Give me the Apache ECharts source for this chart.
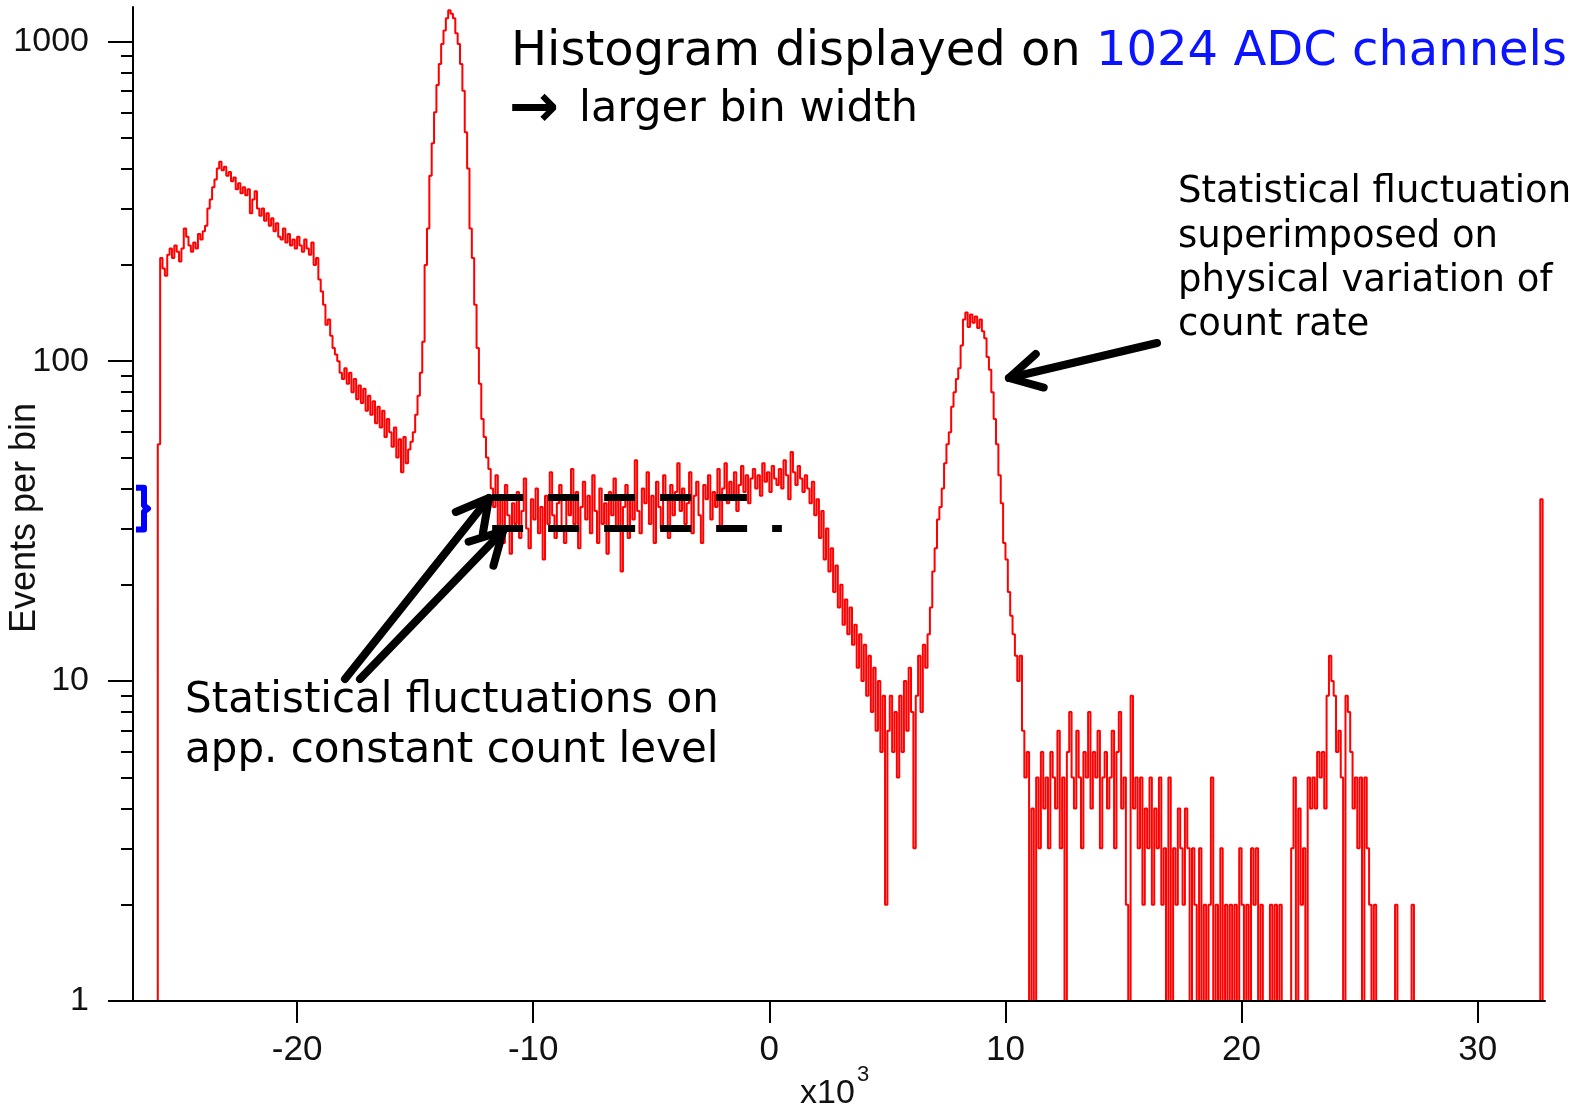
<!DOCTYPE html>
<html>
<head>
<meta charset="utf-8">
<title>Histogram on 1024 ADC channels</title>
<script src="https://cdn.jsdelivr.net/npm/echarts@6/dist/echarts.min.js"></script>
<style>
  html, body { margin: 0; padding: 0; background: #fff; }
  #chart { width: 1570px; height: 1110px; }
</style>
</head>
<body>
<div id="chart"></div>
<script>
// ---- axis ranges and ticks (x in units of 10^3 ADC) ----
const xRange = [-26.95, 32.85];
const yRange = [1, 1280];
const xTickValues = [-20, -10, 0, 10, 20, 30];
const yMajorTicks = [1, 10, 100, 1000];
const yMinorTicks = [2, 3, 4, 5, 6, 7, 8, 9, 20, 30, 40, 50, 60, 70, 80, 90,
                     200, 300, 400, 500, 600, 700, 800, 900];

// ---- histogram: bins of 0.1 (x10^3) starting at -26.0; empty bins sit at 1 on the log scale ----
const binStart = -26.0;
const binWidth = 0.1;

// -26.0 .. -14.8
const comptonCounts = [
  1,
  55, 210, 195, 185, 215, 225, 210, 230, 220, 205,
  225, 260, 245, 230, 220, 235, 225, 250, 240, 255,
  265, 300, 320, 350, 370, 400, 420, 395, 405, 380,
  390, 365, 375, 345, 360, 335, 350, 330, 345, 290,
  320, 340, 300, 285, 300, 275, 290, 265, 280, 255,
  270, 245, 240, 260, 235, 250, 230, 240, 225, 245,
  230, 220, 240, 225, 215, 235, 200, 210, 180, 165,
  150, 130, 135, 120, 110, 105, 100, 92, 88, 95,
  85, 92, 80, 88, 76, 84, 74, 82, 70, 78,
  68, 75, 64, 72, 62, 70, 58, 66, 60, 54,
  62, 50, 57, 45, 58, 48, 53, 56, 60, 68,
  78, 92
];
// -14.7 .. -11.8
const firstPeakCounts = [
  115, 200, 260, 380, 480, 600, 730, 850, 980, 1080,
  1180, 1250, 1220, 1180, 1060, 980, 850, 700, 520, 400,
  260, 210, 150, 110, 85, 66, 58, 50, 46, 40
];
// -11.7 .. 1.5
const plateauCounts = [
  35, 44, 30, 38, 27, 41, 33, 25, 36, 31,
  39, 28, 34, 43, 30, 26, 37, 32, 40, 29,
  35, 24, 38, 31, 45, 33, 28, 36, 41, 30,
  27, 37, 33, 46, 31, 39, 26, 35, 42, 32,
  38, 29, 44, 34, 27, 40, 31, 36, 25, 39,
  33, 43, 30, 37, 22, 35, 41, 28, 38, 32,
  49, 34, 29, 40, 36, 45, 31, 38, 27, 42,
  35, 30, 44, 37, 28, 41, 33, 39, 48, 34,
  40, 31, 36, 45, 29, 38, 42, 33, 27, 41,
  37, 44, 32, 39, 35, 46, 30, 40, 48, 36,
  42, 38, 45, 34, 41, 47, 39, 44, 36, 43,
  46, 40, 44, 38, 48, 42, 45, 39, 47, 43,
  41, 46, 40, 49, 44, 37, 52, 45, 41, 47,
  43, 39, 44
];
// 1.6 .. 6.5
const shoulderCounts = [
  40, 36, 42, 33, 37, 28, 34, 24, 30, 22,
  26, 19, 23, 17, 20, 15, 18, 14, 17, 13,
  15, 11, 14, 10, 13, 9, 12, 8, 11, 7,
  10, 6, 9, 2, 7, 9, 6, 8, 5, 9,
  6, 10, 7, 11, 8, 3, 9, 12, 8, 13
];
// 6.6 .. 10.5
const secondPeakCounts = [
  11, 14, 17, 22, 26, 32, 35, 40, 48, 55,
  60, 72, 80, 88, 95, 112, 135, 142, 128, 140,
  132, 138, 127, 135, 124, 118, 103, 94, 80, 66,
  55, 44, 36, 27, 24, 19, 16, 14, 12, 10
];
// 10.6 .. 27.3
const tailCounts = [
  12, 7, 5, 6, 1, 4, 1, 5, 3, 6,
  4, 5, 3, 6, 5, 4, 7, 3, 5, 1,
  6, 8, 5, 4, 7, 5, 3, 6, 5, 8,
  4, 6, 5, 7, 3, 5, 6, 4, 5, 7,
  3, 6, 8, 4, 5, 2, 1, 9, 4, 5,
  3, 5, 2, 4, 3, 5, 2, 4, 3, 5,
  2, 3, 1, 5, 1, 3, 2, 4, 3, 2,
  4, 3, 1, 3, 2, 1, 3, 1, 2, 1,
  2, 5, 1, 2, 1, 3, 1, 2, 1, 2,
  1, 2, 1, 3, 2, 1, 2, 1, 3, 2,
  3, 1, 2, 1, 1, 1, 2, 1, 2, 1,
  2, 1, 1, 1, 1, 3, 5, 1, 4, 2,
  3, 1, 5, 4, 5, 4, 6, 5, 6, 4,
  9, 12, 10, 9, 6, 7, 5, 1, 9, 8,
  6, 4, 5, 3, 5, 1, 5, 3, 2, 1,
  2, 1, 1, 1, 1, 1, 1, 1, 1, 2,
  1, 1, 1, 1, 1, 1, 2, 1
];
// overflow channel at the top end of the range
const overflowStart = 32.65;
const overflowCounts = [37];

// levels of the roughly constant count region (dashed guides) and the bracket
const plateauLevels = [37.5, 30];
const plateauGuideFrom = -11.74;
const plateauGuideTo = [-0.95, 0.53];
const bracketRange = [29.8, 40.2];

// ---- build the step-line points ----
const histPoints = [];
let binIndex = 0;
[comptonCounts, firstPeakCounts, plateauCounts, shoulderCounts, secondPeakCounts, tailCounts]
  .forEach(seg => seg.forEach(c => {
    histPoints.push([+(binStart + binIndex * binWidth).toFixed(3), c]);
    binIndex++;
  }));
histPoints.push([+(binStart + binIndex * binWidth).toFixed(3), 1]);
overflowCounts.forEach((c, i) => histPoints.push([+(overflowStart + i * binWidth).toFixed(3), c]));
histPoints.push([+(overflowStart + overflowCounts.length * binWidth).toFixed(3), 1]);

const chart = echarts.init(document.getElementById('chart'), null, { renderer: 'canvas' });

const axisFont = 'Liberation Sans, Arial, sans-serif';
const textFont = 'DejaVu Sans, Verdana, sans-serif';
const black = '#000';

chart.setOption({
  animation: false,
  backgroundColor: '#fff',
  grid: { left: 133, right: 25, top: 7, bottom: 109, containLabel: false },
  xAxis: [{
    type: 'value',
    min: xRange[0], max: xRange[1],
    z: 3,
    axisLine: { onZero: false, lineStyle: { color: black, width: 2 } },
    axisTick: { customValues: xTickValues, length: 22, lineStyle: { color: black, width: 2 } },
    axisLabel: { customValues: xTickValues, fontSize: 35, fontFamily: axisFont, color: '#111', margin: 32 },
    splitLine: { show: false }
  }],
  yAxis: [{
    type: 'log', logBase: 10,
    min: yRange[0], max: yRange[1],
    position: 'left',
    z: 3,
    axisLine: { show: true, onZero: false, lineStyle: { color: black, width: 2 } },
    axisTick: { customValues: yMajorTicks, length: 25, lineStyle: { color: black, width: 2 } },
    axisLabel: {
      customValues: yMajorTicks, fontSize: 34, fontFamily: axisFont, color: '#111', margin: 44,
      formatter: v => String(Math.round(v))
    },
    splitLine: { show: false }
  }, {
    type: 'log', logBase: 10,
    min: yRange[0], max: yRange[1],
    position: 'left', offset: 0,
    z: 3,
    axisLine: { show: false, onZero: false },
    axisTick: { customValues: yMinorTicks, length: 12, lineStyle: { color: black, width: 2 } },
    axisLabel: { show: false },
    splitLine: { show: false }
  }],
  series: [{
    type: 'line',
    step: 'end',
    xAxisIndex: 0, yAxisIndex: 0,
    data: histPoints,
    showSymbol: false,
    symbol: 'none',
    lineStyle: { color: '#ff0000', width: 2 },
    z: 2,
    markLine: {
      silent: true,
      symbol: ['none', 'none'],
      label: { show: false },
      lineStyle: { color: black, width: 7, type: [31, 25], cap: 'butt' },
      emphasis: { disabled: true },
      data: plateauLevels.map((lv, i) => [
        { coord: [plateauGuideFrom, lv] },
        { coord: [plateauGuideTo[i], lv] }
      ])
    }
  }]
});

// ---- annotations ----
function arrow(x1, y1, x2, y2) {
  const ang = Math.atan2(y2 - y1, x2 - x1);
  const len = 36, spread = 0.5;
  const a1 = [x2 - len * Math.cos(ang - spread), y2 - len * Math.sin(ang - spread)];
  const a2 = [x2 - len * Math.cos(ang + spread), y2 - len * Math.sin(ang + spread)];
  const st = { stroke: black, lineWidth: 8, lineCap: 'round', lineJoin: 'round', fill: null };
  return [
    { type: 'line', shape: { x1, y1, x2, y2 }, style: st, z: 10 },
    { type: 'polyline', shape: { points: [a1, [x2, y2], a2] }, style: st, z: 10 }
  ];
}

const gx = chart.convertToPixel({ xAxisIndex: 0 }, xRange[0]);
const bTop = chart.convertToPixel({ yAxisIndex: 0 }, bracketRange[1]);
const bBot = chart.convertToPixel({ yAxisIndex: 0 }, bracketRange[0]);
const bMid = (bTop + bBot) / 2;

const graphics = [
  {
    type: 'text', x: 511, y: 53, z: 10,
    style: {
      text: '{k|Histogram displayed on }{b|1024 ADC channels}',
      textVerticalAlign: 'middle',
      rich: {
        k: { font: '48px ' + textFont, fill: black },
        b: { font: '48px ' + textFont, fill: '#0a14ff' }
      }
    }
  },
  {
    type: 'text', x: 509, y: 110, z: 10,
    style: {
      text: '{a|\u2192}{k| larger bin width}',
      textVerticalAlign: 'middle',
      rich: {
        a: { font: 'bold 60px ' + textFont, fill: black, padding: [0, 6, 0, 0] },
        k: { font: '43px ' + textFont, fill: black }
      }
    }
  },
  { type: 'text', x: 1178, y: 192, z: 10, style: { text: 'Statistical fluctuations', font: '37px ' + textFont, fill: black, textVerticalAlign: 'middle' } },
  { type: 'text', x: 1178, y: 237, z: 10, style: { text: 'superimposed on', font: '37px ' + textFont, fill: black, textVerticalAlign: 'middle' } },
  { type: 'text', x: 1178, y: 281, z: 10, style: { text: 'physical variation of', font: '37px ' + textFont, fill: black, textVerticalAlign: 'middle' } },
  { type: 'text', x: 1178, y: 325, z: 10, style: { text: 'count rate', font: '37px ' + textFont, fill: black, textVerticalAlign: 'middle' } },
  { type: 'text', x: 185, y: 701, z: 10, style: { text: 'Statistical fluctuations on', font: '42px ' + textFont, fill: black, textVerticalAlign: 'middle' } },
  { type: 'text', x: 185, y: 751, z: 10, style: { text: 'app. constant count level', font: '42px ' + textFont, fill: black, textVerticalAlign: 'middle' } },
  {
    type: 'text', x: 25, y: 518, rotation: Math.PI / 2, z: 10,
    style: { text: 'Events per bin', font: '36px ' + axisFont, fill: '#111', textAlign: 'center', textVerticalAlign: 'middle' }
  },
  { type: 'text', x: 800, y: 1094, z: 10, style: { text: 'x10', font: '34px ' + axisFont, fill: '#111', textVerticalAlign: 'middle' } },
  { type: 'text', x: 857, y: 1075, z: 10, style: { text: '3', font: '22px ' + axisFont, fill: '#111', textVerticalAlign: 'middle' } },
  {
    type: 'polyline', z: 10,
    shape: { points: [
      [gx + 3, bTop], [gx + 11, bTop], [gx + 11, bMid - 3], [gx + 15, bMid],
      [gx + 11, bMid + 3], [gx + 11, bBot], [gx + 3, bBot]
    ] },
    style: { stroke: '#0000ff', lineWidth: 6, lineJoin: 'round', fill: null }
  },
  ...arrow(345, 679, 489, 498),
  ...arrow(360, 679, 503, 531),
  ...arrow(1157, 343, 1009, 378)
];

chart.setOption({ graphic: graphics });
</script>
</body>
</html>
